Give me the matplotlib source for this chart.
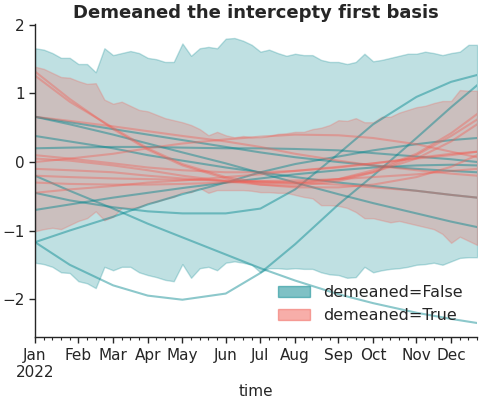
import numpy as np
import pandas as pd
import matplotlib
matplotlib.use("Agg")
import matplotlib.pyplot as plt
from matplotlib.patches import Patch

# weekly time axis
time = pd.date_range("2022-01-03", periods=52, freq="7D")

# envelope of the samples, demeaned=False
false_hi = [1.66, 1.64, 1.59, 1.52, 1.52, 1.43, 1.43, 1.31, 1.66, 1.56,
            1.59, 1.62, 1.59, 1.52, 1.50, 1.46, 1.46, 1.73, 1.55, 1.66,
            1.68, 1.66, 1.80, 1.81, 1.77, 1.71, 1.61, 1.64, 1.59, 1.55,
            1.58, 1.56, 1.56, 1.49, 1.46, 1.46, 1.43, 1.46, 1.58, 1.47,
            1.49, 1.52, 1.55, 1.58, 1.58, 1.61, 1.59, 1.56, 1.59, 1.61,
            1.71, 1.71]
false_lo = [-1.47, -1.49, -1.53, -1.61, -1.62, -1.74, -1.77, -1.84, -1.53, -1.58,
            -1.53, -1.53, -1.61, -1.65, -1.68, -1.72, -1.74, -1.49, -1.69, -1.55,
            -1.53, -1.58, -1.47, -1.45, -1.47, -1.50, -1.61, -1.55, -1.55, -1.56,
            -1.55, -1.56, -1.56, -1.61, -1.64, -1.65, -1.69, -1.68, -1.53, -1.61,
            -1.58, -1.56, -1.55, -1.53, -1.50, -1.49, -1.47, -1.50, -1.45, -1.40,
            -1.39, -1.39]

# envelope, demeaned=True
true_hi = [1.39, 1.36, 1.30, 1.24, 1.23, 1.18, 1.14, 1.15, 0.91, 0.85,
           0.88, 0.82, 0.76, 0.74, 0.69, 0.64, 0.61, 0.58, 0.54, 0.48,
           0.39, 0.44, 0.39, 0.36, 0.38, 0.36, 0.36, 0.38, 0.41, 0.42,
           0.44, 0.44, 0.48, 0.50, 0.54, 0.61, 0.60, 0.64, 0.58, 0.58,
           0.66, 0.66, 0.72, 0.76, 0.80, 0.82, 0.86, 0.89, 0.89, 1.05,
           1.04, 1.04]
true_lo = [-1.01, -0.98, -0.96, -0.98, -0.92, -0.86, -0.82, -0.72, -0.85, -0.80,
           -0.67, -0.67, -0.66, -0.60, -0.58, -0.54, -0.51, -0.44, -0.44, -0.38,
           -0.45, -0.41, -0.41, -0.41, -0.41, -0.42, -0.44, -0.44, -0.45, -0.45,
           -0.48, -0.51, -0.53, -0.63, -0.63, -0.64, -0.67, -0.73, -0.82, -0.82,
           -0.85, -0.88, -0.86, -0.89, -0.92, -0.95, -0.98, -1.05, -1.18, -1.09,
           -1.15, -1.21]

# sample curves, read at these weeks
knots = [0, 4, 9, 13, 17, 22, 26, 30, 35, 39, 44, 48, 51]
false_lines = [
    [-1.17, -1.50, -1.80, -1.95, -2.01, -1.92, -1.62, -1.20, -0.62, -0.20, 0.35, 0.80, 1.12],
    [-1.17, -1.00, -0.80, -0.62, -0.47, -0.30, -0.15, -0.03, 0.08, 0.17, 0.26, 0.32, 0.35],
    [-0.45, -0.56, -0.66, -0.72, -0.75, -0.75, -0.68, -0.40, 0.12, 0.55, 0.95, 1.17, 1.27],
    [-0.20, -0.42, -0.68, -0.90, -1.10, -1.35, -1.55, -1.73, -1.93, -2.06, -2.20, -2.29, -2.35],
    [0.66, 0.55, 0.40, 0.27, 0.14, -0.02, -0.16, -0.30, -0.47, -0.60, -0.75, -0.87, -0.95],
    [0.66, 0.58, 0.48, 0.40, 0.32, 0.22, 0.14, 0.07, 0.00, -0.05, -0.10, -0.13, -0.15],
    [0.38, 0.30, 0.20, 0.10, 0.02, -0.08, -0.15, -0.22, -0.30, -0.35, -0.42, -0.48, -0.52],
    [0.20, 0.21, 0.22, 0.22, 0.21, 0.20, 0.20, 0.19, 0.17, 0.13, 0.08, 0.04, 0.00],
    [-0.70, -0.62, -0.52, -0.45, -0.38, -0.30, -0.24, -0.18, -0.12, -0.08, -0.05, -0.04, -0.05],
]
true_lines = [
    [1.32, 0.92, 0.48, 0.18, -0.05, -0.24, -0.33, -0.35, -0.28, -0.15, 0.10, 0.38, 0.62],
    [1.26, 0.88, 0.50, 0.20, -0.03, -0.22, -0.30, -0.32, -0.25, -0.12, 0.12, 0.42, 0.70],
    [0.66, 0.60, 0.52, 0.45, 0.38, 0.30, 0.22, 0.12, 0.02, -0.05, -0.12, -0.17, -0.20],
    [0.00, 0.05, 0.12, 0.20, 0.27, 0.33, 0.37, 0.40, 0.39, 0.35, 0.26, 0.15, 0.07],
    [0.10, 0.05, -0.02, -0.08, -0.12, -0.15, -0.15, -0.13, -0.08, -0.02, 0.06, 0.12, 0.15],
    [-0.10, -0.12, -0.15, -0.20, -0.24, -0.28, -0.30, -0.30, -0.25, -0.15, 0.05, 0.30, 0.55],
    [-0.20, -0.22, -0.24, -0.25, -0.26, -0.27, -0.28, -0.30, -0.33, -0.37, -0.42, -0.48, -0.52],
    [-0.30, -0.32, -0.33, -0.33, -0.32, -0.30, -0.28, -0.27, -0.25, -0.22, -0.18, -0.13, -0.10],
    [0.05, 0.02, -0.05, -0.12, -0.20, -0.28, -0.33, -0.37, -0.37, -0.33, -0.22, -0.07, 0.10],
    [-0.45, -0.40, -0.35, -0.30, -0.27, -0.22, -0.18, -0.13, -0.07, -0.02, 0.05, 0.10, 0.15],
]
labels = ["demeaned=False", "demeaned=True"]

teal = "#00858d"
salmon = "#f15f55"
ink = "0.15"

plt.rcParams["font.family"] = ["DejaVu Sans"]
fig = plt.figure(figsize=(4.8, 4.0), dpi=100)
ax = fig.add_axes([0.073, 0.1565, 0.921, 0.7845])

ax.fill_between(time, false_lo, false_hi, facecolor=teal, edgecolor=teal, alpha=0.25, lw=1)
ax.fill_between(time, true_lo, true_hi, facecolor=salmon, edgecolor=salmon, alpha=0.25, lw=1)

xs = time[knots]
for ys in false_lines:
    ax.plot(xs, ys, color=teal, alpha=0.45, lw=1.5)
for ys in true_lines:
    ax.plot(xs, ys, color=salmon, alpha=0.4, lw=1.5)

# month ticks on the first week of each month, weekly minor ticks
month_ticks = [d for i, d in enumerate(time) if i == 0 or d.month != time[i - 1].month]
month_labels = [d.strftime("%b") for d in month_ticks]
month_labels[0] = month_labels[0] + "\n" + str(month_ticks[0].year)
ax.set_xticks(month_ticks)
ax.set_xticklabels(month_labels)
ax.set_xticks(time, minor=True)
ax.set_xlim(time[0], time[-1])
ax.set_ylim(-2.56, 2.02)
ax.set_yticks([-2, -1, 0, 1, 2])

for s in ["top", "right"]:
    ax.spines[s].set_visible(False)
for s in ["left", "bottom"]:
    ax.spines[s].set_color(ink)
    ax.spines[s].set_linewidth(1.0)
ax.tick_params(axis="both", which="major", labelsize=11, colors=ink, length=4, width=1)
ax.tick_params(axis="x", which="minor", length=2, width=0.8, colors=ink)

ax.set_xlabel("time", fontsize=11, color=ink, labelpad=3)
ax.set_title("Demeaned the intercepty first basis", fontsize=13, fontweight="bold",
             color=ink, pad=4)

handles = [Patch(facecolor=teal, edgecolor=teal, alpha=0.5),
           Patch(facecolor=salmon, edgecolor=salmon, alpha=0.5)]
leg = ax.legend(handles, labels, loc="lower right", frameon=False, fontsize=11.5)
for t in leg.get_texts():
    t.set_color(ink)

fig.savefig("out.png", dpi=100)
